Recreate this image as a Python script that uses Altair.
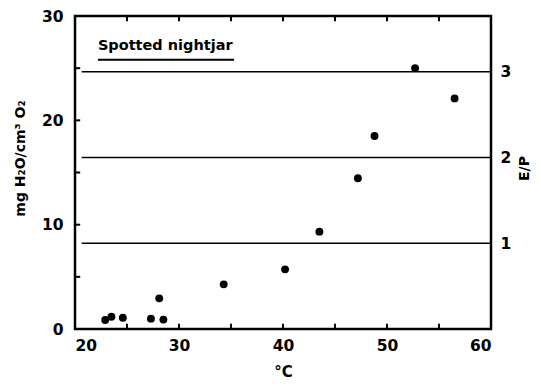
import altair as alt
import pandas as pd

# Data
temp_c = [22.9, 23.5, 24.6, 27.3, 28.1, 28.5, 34.3, 40.2, 43.5, 47.2, 48.8, 52.7, 56.5]
water_mg = [0.86, 1.18, 1.08, 0.99, 2.94, 0.90, 4.28, 5.72, 9.33, 14.45, 18.5, 25.0, 22.1]

ep_levels = [1, 2, 3]
mg_per_ep = 8.22          # 1 E/P unit in mg H2O / cm3 O2
line_start = 20.64
x_ticks_minor = [25, 30, 35, 40, 45, 50, 55]
y_ticks_minor = [5, 10, 15, 20, 25]
x_labels = [20, 30, 40, 50, 60]
y_labels = [0, 10, 20, 30]

label_text = ["Spotted nightjar"]
label_x = [22.2]
label_y = [26.75]
underline_x = [22.2]
underline_x2 = [35.3]
underline_y = [25.8]

FONT = "DejaVu Sans"
XD = [20, 60]
YD = [0, 30]

xs = alt.Scale(domain=XD, nice=False, zero=False)
ys = alt.Scale(domain=YD, nice=False, zero=False)

pts = pd.DataFrame({"t": temp_c, "w": water_mg})
hl = pd.DataFrame({"y": [e * mg_per_ep for e in ep_levels],
                   "x": [line_start] * 3, "x2": [XD[1]] * 3})

points = alt.Chart(pts).mark_circle(size=62, color="black", opacity=1).encode(
    x=alt.X("t:Q", scale=xs, axis=alt.Axis(values=x_labels, format="d", domain=False, ticks=False,
                                             title="°C", labelPadding=9, titlePadding=11,
                                             titleFontSize=15, grid=False)),
    y=alt.Y("w:Q", scale=ys, axis=alt.Axis(values=y_labels, format="d", domain=False, ticks=False,
                                             title="mg H₂O/cm³ O₂", labelPadding=12,
                                             titleX=-55, titleY=142, titleBaseline="middle",
                                             titleFontSize=14, grid=False)),
)

hlines = alt.Chart(hl).mark_rule(color="black", strokeWidth=1.5).encode(
    x=alt.X("x:Q", scale=xs), x2="x2:Q", y=alt.Y("y:Q", scale=ys))

tb = pd.DataFrame({"x": x_ticks_minor})
bottom_ticks = alt.Chart(tb).mark_rule(color="black", strokeWidth=2).encode(
    x=alt.X("x:Q", scale=xs), y=alt.datum(0, scale=ys), y2=alt.datum(0.5))
top_ticks = alt.Chart(tb).mark_rule(color="black", strokeWidth=2).encode(
    x=alt.X("x:Q", scale=xs), y=alt.datum(30, scale=ys), y2=alt.datum(29.5))
tl = pd.DataFrame({"y": y_ticks_minor})
left_ticks = alt.Chart(tl).mark_rule(color="black", strokeWidth=2).encode(
    y=alt.Y("y:Q", scale=ys), x=alt.datum(20, scale=xs), x2=alt.datum(20.5))

lab = pd.DataFrame({"txt": label_text, "x": label_x, "y": label_y})
label = alt.Chart(lab).mark_text(align="left", baseline="alphabetic", font=FONT,
                                 fontSize=14.5, fontWeight="bold", color="black").encode(
    x=alt.X("x:Q", scale=xs), y=alt.Y("y:Q", scale=ys), text="txt:N")
ul = pd.DataFrame({"x": underline_x, "x2": underline_x2, "y": underline_y})
underline = alt.Chart(ul).mark_rule(color="black", strokeWidth=2).encode(
    x=alt.X("x:Q", scale=xs), x2="x2:Q", y=alt.Y("y:Q", scale=ys))

main = alt.layer(hlines, bottom_ticks, top_ticks, left_ticks, label, underline, points)

epd = pd.DataFrame({"ep": ep_levels, "t": [40] * 3})
right = alt.Chart(epd).mark_point(opacity=0).encode(
    x=alt.X("t:Q", scale=xs),
    y=alt.Y("ep:Q", scale=alt.Scale(domain=[0, YD[1] / mg_per_ep], nice=False, zero=False),
            axis=alt.Axis(orient="right", values=ep_levels, format="d", domain=False, ticks=False,
                          title="E/P", titleAngle=270, titleX=33, titleY=152,
                          titleBaseline="middle", titleAlign="center", labelPadding=9,
                          titleFontSize=14, grid=False)),
)

chart = alt.layer(main, right).resolve_scale(y="independent").properties(
    width=416, height=313,
    autosize=alt.AutoSizeParams(type="none"),
    padding={"left": 67, "top": 8, "right": 42, "bottom": 55},
    background="white",
).configure_view(stroke="black", strokeWidth=2.5).configure_axis(
    labelFont=FONT, titleFont=FONT, labelFontSize=15.5, labelFontWeight="bold",
    titleFontWeight="bold", labelColor="black", titleColor="black",
)

chart.save("out.html", embed_options={"renderer": "svg", "actions": False})
